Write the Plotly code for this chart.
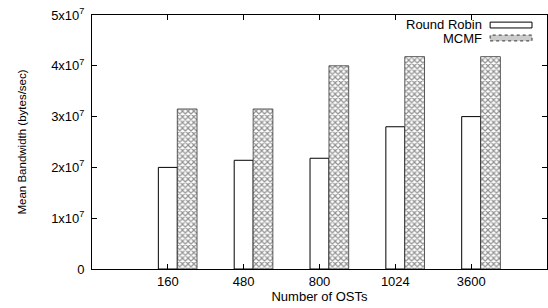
import plotly.graph_objects as go

categories = ["160", "480", "800", "1024", "3600"]
round_robin = [2.0e7, 2.14e7, 2.18e7, 2.80e7, 3.0e7]
mcmf = [3.15e7, 3.15e7, 4.0e7, 4.18e7, 4.18e7]
ytick_vals = [0, 1e7, 2e7, 3e7, 4e7, 5e7]
ytick_text = ["0", "1x10<sup>7</sup>", "2x10<sup>7</sup>", "3x10<sup>7</sup>", "4x10<sup>7</sup>", "5x10<sup>7</sup>"]

FONT = "Liberation Sans, Arial, Helvetica, sans-serif"

fig = go.Figure()
fig.add_trace(go.Bar(
    x=categories, y=round_robin, name="Round Robin",
    width=0.25, offset=-0.125,
    marker=dict(color="white", line=dict(color="black", width=1)),
))
fig.add_trace(go.Bar(
    x=categories, y=mcmf, name="MCMF",
    width=0.26, offset=0.125,
    marker=dict(color="white", line=dict(color="#333", width=0.8),
                pattern=dict(shape="x", size=4, solidity=0.5,
                             fgcolor="#222", bgcolor="white")),
))

axis_common = dict(showline=True, linecolor="black", linewidth=1,
                   mirror="ticks", ticks="inside", ticklen=5,
                   tickcolor="black", showgrid=False, zeroline=False,
                   automargin=False,
                   tickfont=dict(family=FONT, size=13, color="black"))

fig.update_layout(
    width=548, height=308,
    margin=dict(l=92, r=1, t=15, b=39),
    paper_bgcolor="white", plot_bgcolor="white",
    showlegend=False,
    font=dict(family=FONT, size=13, color="black"),
    xaxis=dict(type="category", range=[-1, 5],
               title=dict(text="Number of OSTs", font=dict(family=FONT, size=13), standoff=0),
               **axis_common),
    yaxis=dict(range=[0, 5e7], tickvals=ytick_vals, ticktext=ytick_text,
               ticklabelstandoff=4,
               title=dict(text="Mean Bandwidth (bytes/sec)", font=dict(family=FONT, size=11.5), standoff=22),
               **axis_common),
)

# gnuplot-style key (text left, sample right)
fig.add_annotation(xref="paper", yref="paper", x=0.862, y=0.961, xanchor="right", yanchor="middle",
                   text="Round Robin", showarrow=False, font=dict(family=FONT, size=13))
fig.add_annotation(xref="paper", yref="paper", x=0.862, y=0.909, xanchor="right", yanchor="middle",
                   text="MCMF", showarrow=False, font=dict(family=FONT, size=13))
fig.add_shape(type="rect", xref="paper", yref="paper", x0=0.875, x1=0.967, y0=0.949, y1=0.972,
              line=dict(color="black", width=1), fillcolor="white")
fig.add_shape(type="rect", xref="paper", yref="paper", x0=0.875, x1=0.967, y0=0.898, y1=0.921,
              line=dict(color="#333", width=1, dash="dot"), fillcolor="#ccc")

fig.write_html("out.html", config={"displayModeBar": False},
               post_script="document.body.style.margin='0';document.body.style.padding='0';")
